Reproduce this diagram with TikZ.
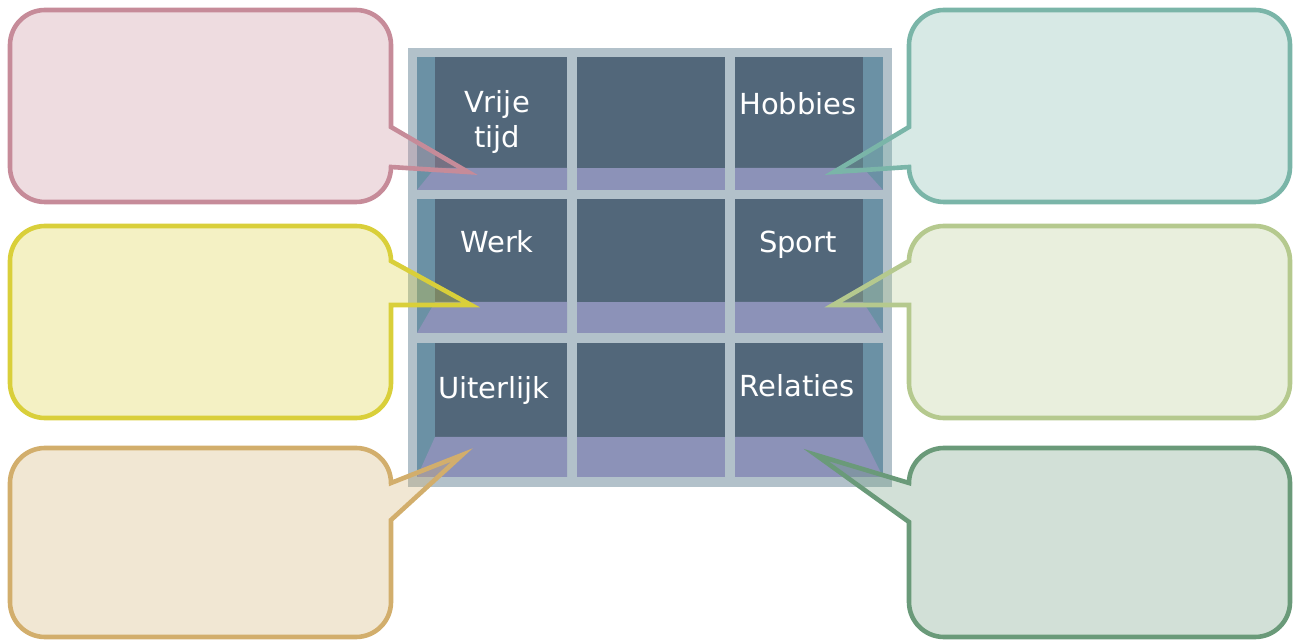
\documentclass[tikz,border=0pt]{standalone}
\usepackage{fontspec}
\setmainfont{DejaVu Sans}
\definecolor{frame}{HTML}{B2C1CA}
\definecolor{sidepanel}{HTML}{6B91A5}
\definecolor{backpanel}{HTML}{52677A}
\definecolor{shelf}{HTML}{8C92B8}
\definecolor{pinkline}{HTML}{C68B99}
\definecolor{yellowline}{HTML}{D9CF3A}
\definecolor{tanline}{HTML}{D2AE6C}
\definecolor{tealline}{HTML}{7AB5A8}
\definecolor{lightgreenline}{HTML}{B5C98E}
\definecolor{darkgreenline}{HTML}{6A9A79}
% #1 colour, #2 top, #3 bottom, #4 tail top, #5 tail bottom, #6 tip
\newcommand{\leftcallout}[6]{%
  \draw[callout=#1] (45,#2) -- (356,#2) arc[start angle=90,end angle=0,radius=17.5pt]
    -- (391,#4) -- (#6) -- (391,#5) -- (391,#3-35) arc[start angle=0,end angle=-90,radius=17.5pt]
    -- (45,#3) arc[start angle=-90,end angle=-180,radius=17.5pt]
    -- (10,#2+35) arc[start angle=180,end angle=90,radius=17.5pt] -- cycle;}
\newcommand{\rightcallout}[6]{%
  \draw[callout=#1] (944,#2) -- (1255,#2) arc[start angle=90,end angle=0,radius=17.5pt]
    -- (1290,#3-35) arc[start angle=0,end angle=-90,radius=17.5pt]
    -- (944,#3) arc[start angle=-90,end angle=-180,radius=17.5pt]
    -- (909,#5) -- (#6) -- (909,#4)
    -- (909,#2+35) arc[start angle=180,end angle=90,radius=17.5pt] -- cycle;}
\begin{document}
\begin{tikzpicture}[x=0.5pt,y=-0.5pt,
  callout/.style={line width=2.3pt,draw=#1,fill=#1,fill opacity=0.3,draw opacity=1},
  label node/.style={text=white,font=\fontsize{14.5}{17.5}\selectfont,align=center,inner sep=0pt}]
\useasboundingbox (0,0) rectangle (1300,640);
% cabinet
\fill[frame] (408,48) rectangle (892,487);
\foreach \ya/\yb/\yc in {57/168/190, 199/302/333, 343/437/477} {
  \fill[sidepanel] (417,\ya) rectangle (435,\yc);
  \fill[sidepanel] (863,\ya) rectangle (883,\yc);
  \fill[backpanel] (435,\ya) rectangle (567,\yb);
  \fill[backpanel] (577,\ya) rectangle (725,\yb);
  \fill[backpanel] (735,\ya) rectangle (863,\yb);
  \fill[shelf] (417,\yc) -- (435,\yb) -- (567,\yb) -- (567,\yc) -- cycle;
  \fill[shelf] (577,\yb) rectangle (725,\yc);
  \fill[shelf] (735,\yb) -- (863,\yb) -- (883,\yc) -- (735,\yc) -- cycle;
}
\node[label node] (vrije) at (497,122) {Vrije\\tijd};
\node[label node,anchor=base] (hobbies) at (798,115) {Hobbies};
\node[label node,anchor=base] (werk) at (497,253) {Werk};
\node[label node,anchor=base] (sport) at (798,253) {Sport};
\node[label node,anchor=base] (uiterlijk) at (494,399) {Uiterlijk};
\node[label node,anchor=base] (relaties) at (797,397) {Relaties};
% tips of the callouts
\coordinate (tip1) at (468,172);
\coordinate (tip2) at (471,305);
\coordinate (tip3) at (462,455);
\coordinate (tip4) at (834,172);
\coordinate (tip5) at (833,305);
\coordinate (tip6) at (816,455);
% callouts
\leftcallout{pinkline}{10}{202}{127}{167}{tip1}
\leftcallout{yellowline}{226}{418}{261}{305}{tip2}
\leftcallout{tanline}{448}{637}{483}{520}{tip3}
\rightcallout{tealline}{10}{202}{127}{167}{tip4}
\rightcallout{lightgreenline}{226}{418}{261}{305}{tip5}
\rightcallout{darkgreenline}{448}{637}{483}{522}{tip6}
\end{tikzpicture}
\end{document}
